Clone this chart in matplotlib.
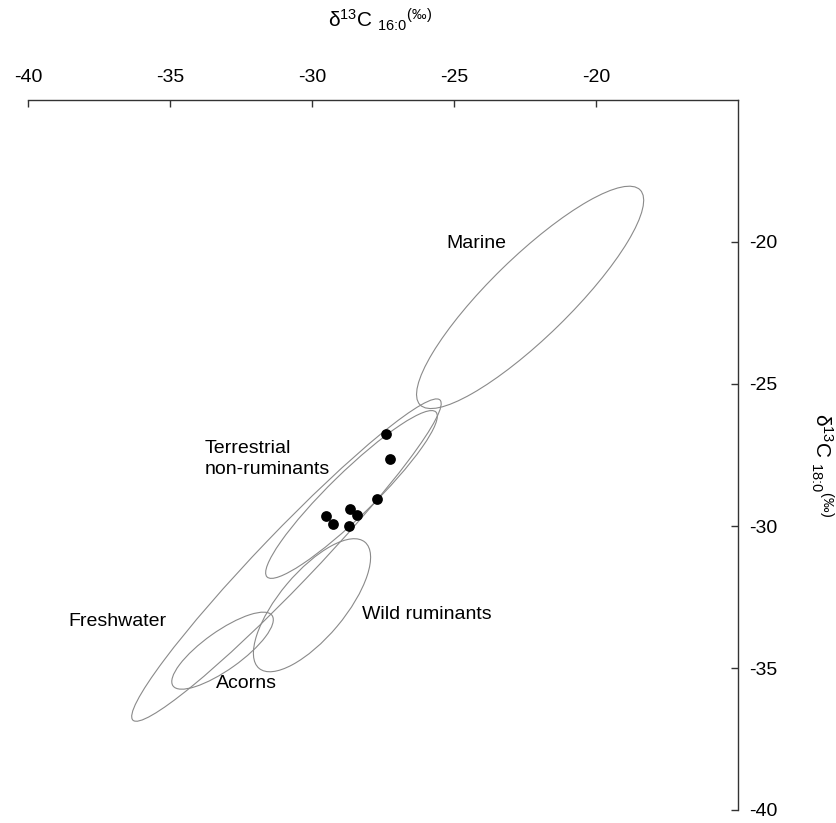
import matplotlib
matplotlib.use("Agg")
import matplotlib.pyplot as plt
from matplotlib.patches import Ellipse

plt.rcParams['font.family'] = ['Liberation Sans', 'DejaVu Sans']
plt.rcParams['mathtext.fontset'] = 'custom'
plt.rcParams['mathtext.rm'] = 'Liberation Sans'
plt.rcParams['mathtext.it'] = 'Liberation Sans'
plt.rcParams['mathtext.bf'] = 'Liberation Sans:bold'

# sample data: delta13C 16:0 (x) and delta13C 18:0 (y)
c16 = [-27.38, -27.25, -27.71, -28.66, -28.40, -29.51, -29.27, -28.69]
c18 = [-26.76, -27.63, -29.04, -29.40, -29.60, -29.64, -29.94, -30.01]

# reference ellipses: name, centre x, centre y, width, height, angle
ell_names = ["Marine", "Freshwater", "Terrestrial", "Wild ruminants", "Acorns"]
ell_cx = [-22.32, -30.90, -28.61, -30.00, -33.15]
ell_cy = [-21.95, -31.20, -28.89, -32.79, -34.39]
ell_w = [10.83, 15.62, 8.31, 5.80, 4.28]
ell_h = [2.82, 1.90, 1.55, 2.31, 1.35]
ell_ang = [44.3, 46.2, 44.3, 50.0, 35.4]

# labels (left edge x, vertical centre y)
lab_text = ["Marine", "Terrestrial\nnon-ruminants", "Freshwater", "Wild ruminants", "Acorns"]
lab_x = [-25.26, -33.77, -38.59, -28.24, -33.38]
lab_y = [-20.07, -27.64, -33.37, -33.11, -35.55]

ticks = [-40, -35, -30, -25, -20]

W, H = 836, 823
fig = plt.figure(figsize=(W / 100, H / 100), dpi=100)
ax = fig.add_axes([28 / W, 1 - 810 / H, 710 / W, 710 / H])
ax.set_xlim(-40, -15)
ax.set_ylim(-40, -15)

for cx, cy, w, h, a in zip(ell_cx, ell_cy, ell_w, ell_h, ell_ang):
    ax.add_patch(Ellipse((cx, cy), w, h, angle=a, fill=False,
                         edgecolor='#8a8a8a', linewidth=0.8))

ax.scatter(c16, c18, s=60, color='black', zorder=5, linewidths=0)

for t, x, y in zip(lab_text, lab_x, lab_y):
    ax.text(x, y, t, fontsize=14, ha='left', va='center', linespacing=1.3)

for s in ['left', 'bottom']:
    ax.spines[s].set_visible(False)
for s in ['top', 'right']:
    ax.spines[s].set_color('#333333')
    ax.spines[s].set_linewidth(1.0)

ax.xaxis.tick_top()
ax.yaxis.tick_right()
ax.set_xticks(ticks)
ax.set_yticks(ticks)
ax.set_xticklabels([str(t) for t in ticks])
ax.set_yticklabels([str(t) for t in ticks])
ax.tick_params(axis='both', direction='in', length=5, width=1, color='#333333',
               labelsize=14)
ax.tick_params(axis='x', pad=10)
ax.tick_params(axis='y', pad=8)

fig.text(380 / W, 1 - 20 / H,
         r'$\mathregular{\delta^{13}C\ {}_{\text{16:0}}{}^{(‰)}}$',
         fontsize=15, ha='center', va='center')
fig.text(822 / W, 1 - 465 / H,
         r'$\mathregular{\delta^{13}C\ {}_{\text{18:0}}{}^{(‰)}}$',
         fontsize=15, ha='center', va='center', rotation=270)

fig.savefig('out.png', dpi=100)
